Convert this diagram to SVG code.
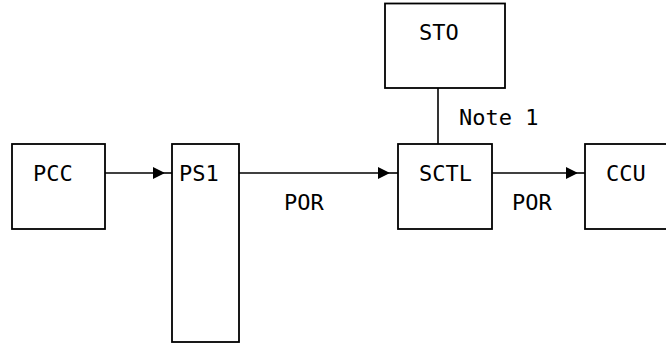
<svg xmlns="http://www.w3.org/2000/svg" width="666" height="343" viewBox="0 0 666 343">
<style>
.box{fill:#fff;stroke:#000;stroke-width:1.8}
.ln{fill:none;stroke:#000;stroke-width:1.6}
text{font-family:"DejaVu Sans Mono","Liberation Mono",monospace;font-size:22px;fill:#000}
</style>
<defs>
<marker id="ah" viewBox="0 0 10 10" refX="10" refY="5" markerWidth="16" markerHeight="12" markerUnits="userSpaceOnUse" orient="auto">
<path d="M0,0 L10,5 L0,10 z" fill="#000"/>
</marker>
</defs>
<g id="connectors">
<path class="ln" d="M105,173 H165" marker-end="url(#ah)"/>
<path class="ln" d="M165,173 H172"/>
<path class="ln" d="M239,173 H390" marker-end="url(#ah)"/>
<path class="ln" d="M390,173 H398"/>
<path class="ln" d="M492,173 H578" marker-end="url(#ah)"/>
<path class="ln" d="M578,173 H585"/>
<path class="ln" d="M438,88 V144"/>
<text x="459" y="125">Note 1</text>
<text x="284" y="210">POR</text>
<text x="512" y="210">POR</text>
</g>
<g id="PCC">
<rect class="box" x="12" y="144" width="93" height="85"/>
<text x="33" y="181">PCC</text>
</g>
<g id="PS1">
<rect class="box" x="172" y="144" width="67" height="198"/>
<text x="179" y="181">PS1</text>
</g>
<g id="STO">
<rect class="box" x="385" y="3.5" width="120" height="84.5"/>
<text x="419" y="40">STO</text>
</g>
<g id="SCTL">
<rect class="box" x="398" y="144" width="94" height="85"/>
<text x="419" y="181">SCTL</text>
</g>
<g id="CCU">
<rect class="box" x="585" y="144" width="90" height="85"/>
<text x="606" y="181">CCU</text>
</g>
</svg>
